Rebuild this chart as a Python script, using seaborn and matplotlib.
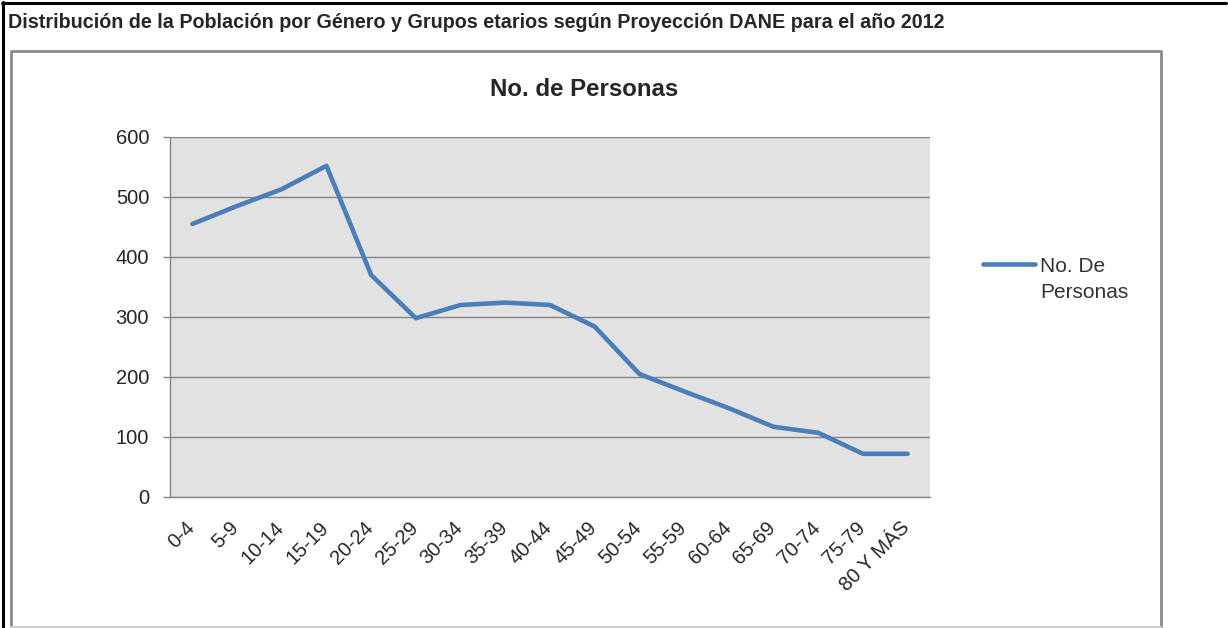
import numpy as np
import pandas as pd
import seaborn as sns
import matplotlib.pyplot as plt
from matplotlib.lines import Line2D
from matplotlib.transforms import ScaledTranslation

# Datos
grupos = ['0-4', '5-9', '10-14', '15-19', '20-24', '25-29', '30-34', '35-39',
          '40-44', '45-49', '50-54', '55-59', '60-64', '65-69', '70-74',
          '75-79', '80 Y MÁS']
personas = [455, 485, 513, 552, 370, 298, 320, 324, 320, 284, 205, 176,
            148, 117, 107, 72, 72]
y_ticks = [0, 100, 200, 300, 400, 500, 600]

encabezado = ('Distribución de la Población por Género y Grupos etarios según '
              'Proyección DANE para el año 2012')
titulo = 'No. de Personas'
serie = 'No. De\nPersonas'

W, H = 1228, 628

sns.set_style('white')
plt.rcParams['font.family'] = ['Liberation Sans Narrow', 'Liberation Sans', 'DejaVu Sans']


def fx(x):
    return x / W


def fy(y):
    return 1 - y / H


fig = plt.figure(figsize=(W / 100, H / 100), dpi=100)

# marcos
fig.add_artist(Line2D([fx(2), fx(1226)], [fy(3), fy(3)], color='black', lw=2.2))
fig.add_artist(Line2D([fx(3), fx(3)], [fy(2), fy(628)], color='black', lw=2.2))
fig.add_artist(Line2D([fx(11), fx(11), fx(1161), fx(1161)],
                      [fy(627), fy(51), fy(51), fy(627)], color='#8c8c8c', lw=2))
fig.add_artist(Line2D([fx(11), fx(1161)], [fy(627), fy(627)], color='#cfcfcf', lw=1.5))

fig.text(fx(8), fy(22), encabezado, fontsize=14.2, fontweight='bold', ha='left', va='center')

ax = fig.add_axes([fx(170), fy(497), fx(930) - fx(170), fy(137) - fy(497)])
ax.set_facecolor('#e2e2e2')

df = pd.DataFrame({'grupo': grupos, 'personas': personas})
sns.lineplot(data=df, x='grupo', y='personas', ax=ax, sort=False,
             color='#4a7ebb', lw=3.3, label=serie)

ax.set_xlim(-0.5, len(grupos) - 0.5)
ax.set_ylim(0, 600)
ax.set_yticks(y_ticks)
ax.set_yticklabels([str(v) for v in y_ticks], fontsize=14.5)
ax.yaxis.grid(True, color='#858585', lw=1)
ax.set_axisbelow(True)

ax.set_xticks(np.arange(-0.5, len(grupos)), labels=[])
ax.set_xticks(np.arange(len(grupos)), labels=grupos, minor=True)
ax.tick_params(axis='x', which='major', length=7, color='#858585', width=1)
ax.tick_params(axis='x', which='minor', length=0, pad=15, labelsize=14.5)
ax.tick_params(axis='y', length=5, color='#858585', width=1, pad=10, left=True)
for lab in ax.get_xticklabels(minor=True):
    lab.set_rotation(45)
    lab.set_ha('right')
    lab.set_transform(lab.get_transform() + ScaledTranslation(0.06, 0, fig.dpi_scale_trans))

for s in ['top', 'right']:
    ax.spines[s].set_visible(False)
for s in ['left', 'bottom']:
    ax.spines[s].set_color('#858585')
    ax.spines[s].set_linewidth(1)
ax.set_xlabel('')
ax.set_ylabel('')

fig.text(fx(584), fy(89), titulo, fontsize=17.3, fontweight='bold', ha='center', va='center')

leg = ax.legend(loc='upper left', bbox_to_anchor=(fx(983), fy(257)), bbox_transform=fig.transFigure,
                frameon=False, fontsize=15, handlelength=2.5, handletextpad=0.25,
                borderpad=0, borderaxespad=0, labelcolor='#333333')
leg.get_texts()[0].set_linespacing(1.5)
# la línea de la leyenda va a la altura de la primera línea del texto
hl = leg.legend_handles[0]
hl.set_ydata(np.asarray(hl.get_ydata()) + 11.5)

fig.savefig('out.png', dpi=100)
